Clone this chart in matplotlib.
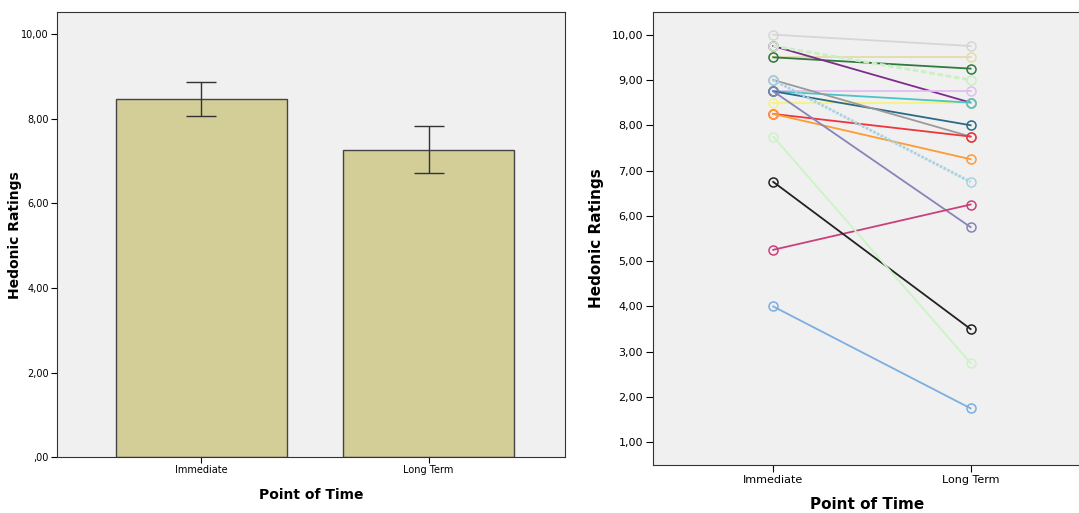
import matplotlib.pyplot as plt
import numpy as np

# bar chart data
times = ["Immediate", "Long Term"]
means = [8.46, 7.26]
err_low = [8.06, 6.71]
err_high = [8.87, 7.82]

# individual ratings (immediate -> long term)
immediate = [10.0, 9.5, 9.5, 9.75, 9.75, 8.75, 8.5, 8.75, 8.75, 9.0,
             8.25, 8.25, 9.0, 8.75, 5.25, 6.75, 7.75, 4.0]
long_term = [9.75, 9.5, 9.25, 8.5, 9.0, 8.75, 8.5, 8.5, 8.0, 7.75,
             7.75, 7.25, 6.75, 5.75, 6.25, 3.5, 2.75, 1.75]
line_colors = ["#d6d6d6", "#e3dcab", "#2f7a3e", "#7e2c8c", "#c9efc2", "#e2bdf2",
               "#f7f27d", "#4cc4c6", "#2b6a86", "#9a9a9a", "#f0343c", "#ff9b33",
               "#a9d2e2", "#8784b9", "#c9417c", "#222222", "#c9f6c2", "#7caee0"]
line_styles = ["-", "-", "-", "-", (0, (2, 1)), "-", "-", "-", "-", "-",
               "-", "-", (0, (1, 0.5)), "-", "-", "-", "-", "-"]
line_widths = [1.3, 1.3, 1.3, 1.3, 2.0, 1.3, 1.3, 1.3, 1.3, 1.3,
               1.3, 1.3, 2.0, 1.3, 1.3, 1.3, 1.3, 1.3]

def fmt(v):
    s = "%.2f" % v
    s = s.replace(".", ",")
    if s.startswith("0"):
        s = s[1:]
    return s

bg = "#f0f0f0"
fig = plt.figure(figsize=(10.79, 5.13), dpi=100)

# left: bar chart with error bars
ax1 = fig.add_axes([0.0528, 0.109, 0.4708, 0.867])
ax1.set_facecolor(bg)
x = np.arange(len(times))
ax1.bar(x, means, width=0.75, color="#d3ce98", edgecolor="#444444", linewidth=1.0, zorder=2)
yerr = [np.array(means) - np.array(err_low), np.array(err_high) - np.array(means)]
ax1.errorbar(x, means, yerr=yerr, fmt="none", ecolor="#333333", elinewidth=1.0,
             capsize=11, capthick=1.0, zorder=3)
ax1.set_xlim(-0.635, 1.6)
ax1.set_ylim(0, 10.52)
ax1.set_xticks(x)
ax1.set_xticklabels(times, fontsize=7)
yt = [0, 2, 4, 6, 8, 10]
ax1.set_yticks(yt)
ax1.set_yticklabels([fmt(v) for v in yt], fontsize=7)
ax1.set_xlabel("Point of Time", fontsize=10, fontweight="bold", labelpad=9)
ax1.set_ylabel("Hedonic Ratings", fontsize=10, fontweight="bold")
ax1.yaxis.set_label_coords(-0.068, 0.5)
ax1.tick_params(length=4, width=0.8, pad=2)
for s in ax1.spines.values():
    s.set_color("#333333")

# right: individual ratings
ax2 = fig.add_axes([0.605, 0.0936, 0.397, 0.883])
ax2.set_facecolor(bg)
for a, b, c, ls, lw in zip(immediate, long_term, line_colors, line_styles, line_widths):
    ax2.plot([0, 1], [a, b], color=c, linestyle=ls, linewidth=lw,
             marker="o", markersize=6.5, markerfacecolor="none",
             markeredgecolor=c, markeredgewidth=1.1)
ax2.set_xlim(-0.61, 1.56)
ax2.set_ylim(0.5, 10.5)
ax2.set_xticks([0, 1])
ax2.set_xticklabels(times, fontsize=8)
yt2 = list(range(1, 11))
ax2.set_yticks(yt2)
ax2.set_yticklabels([fmt(v) for v in yt2], fontsize=8)
ax2.set_xlabel("Point of Time", fontsize=11, fontweight="bold", labelpad=9)
ax2.set_ylabel("Hedonic Ratings", fontsize=11, fontweight="bold")
ax2.yaxis.set_label_coords(-0.115, 0.5)
ax2.tick_params(length=5, width=0.8, pad=2)
for s in ax2.spines.values():
    s.set_color("#333333")

fig.savefig("out.png", dpi=100)
